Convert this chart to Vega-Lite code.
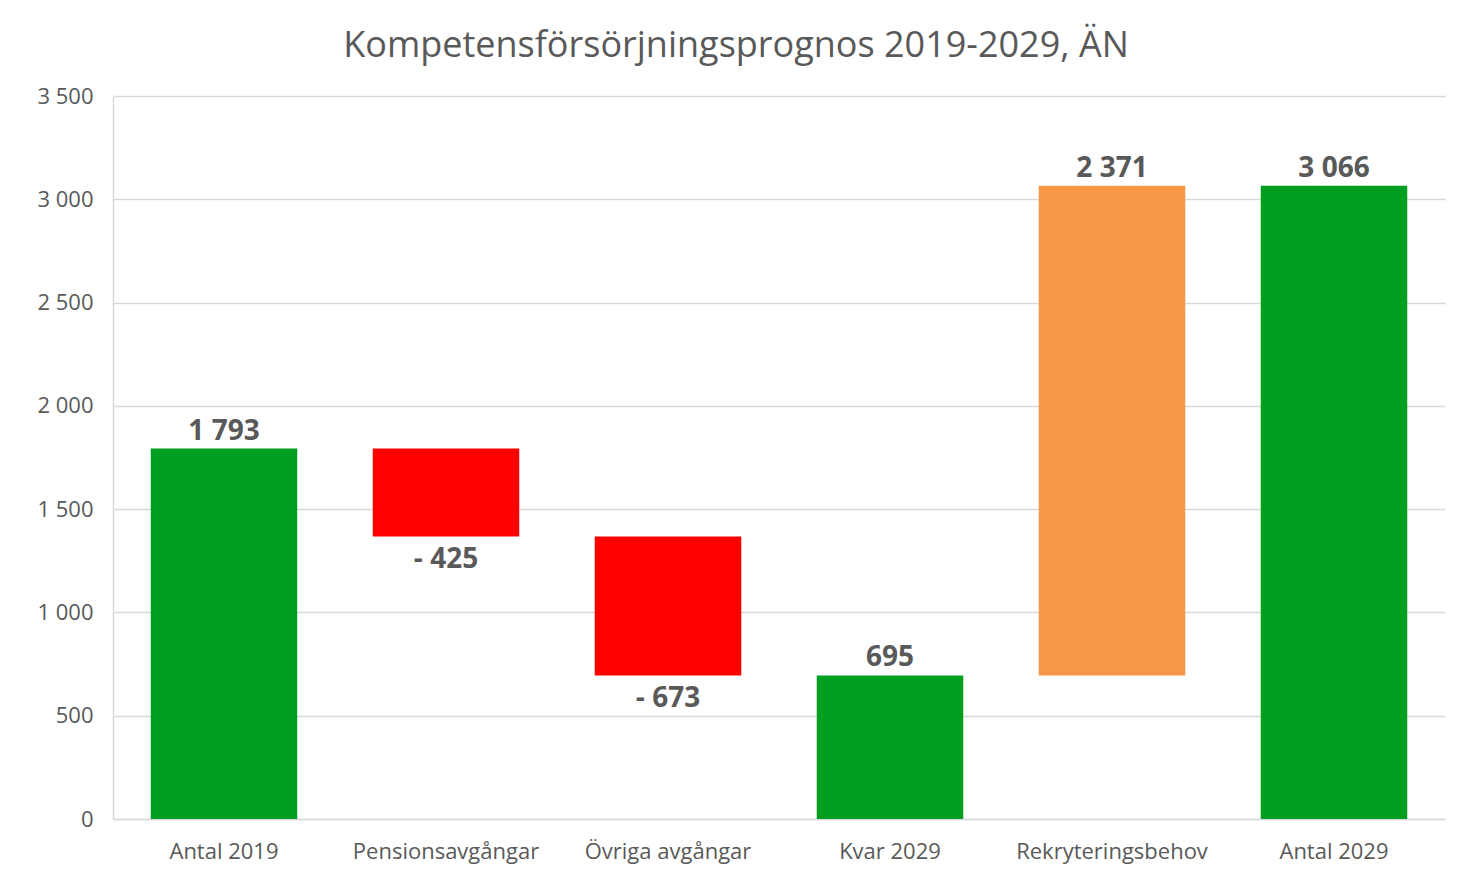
{
  "$schema": "https://vega.github.io/schema/vega-lite/v6.json",
  "autosize": "none",
  "width": 1332,
  "height": 723,
  "padding": {"left": 113, "top": 96, "right": 13, "bottom": 56},
  "background": "white",
  "config": {
    "font": "Open Sans",
    "view": {"stroke": null}
  },
  "title": {
    "text": "Kompetensförsörjningsprognos 2019-2029, ÄN",
    "font": "Open Sans",
    "fontSize": 36,
    "fontWeight": "normal",
    "color": "#595959",
    "anchor": "middle",
    "frame": "bounds",
    "baseline": "alphabetic",
    "offset": 36,
    "dy": 44,
    "dx": -5
  },
  "data": {
    "values": [
      {"kategori": "Antal 2019", "start": 0, "end": 1793, "value": 1793, "typ": "Total"},
      {"kategori": "Pensionsavgångar", "start": 1793, "end": 1368, "value": -425, "typ": "Minskning"},
      {"kategori": "Övriga avgångar", "start": 1368, "end": 695, "value": -673, "typ": "Minskning"},
      {"kategori": "Kvar 2029", "start": 0, "end": 695, "value": 695, "typ": "Total"},
      {"kategori": "Rekryteringsbehov", "start": 695, "end": 3066, "value": 2371, "typ": "Ökning"},
      {"kategori": "Antal 2029", "start": 0, "end": 3066, "value": 3066, "typ": "Total"}
    ]
  },
  "transform": [
    {"calculate": "(datum.value < 0 ? '- ' : '') + replace(format(abs(datum.value), ','), ',', ' ')", "as": "etikett"}
  ],
  "encoding": {
    "x": {
      "field": "kategori",
      "type": "nominal",
      "sort": null,
      "scale": {"paddingInner": 0.34, "paddingOuter": 0.17},
      "axis": {
        "title": null,
        "labelAngle": 0,
        "labelFont": "Open Sans",
        "labelFontSize": 22,
        "labelColor": "#595959",
        "labelPadding": 22,
        "labelLimit": 400,
        "ticks": false,
        "domainColor": "#d9d9d9",
        "domainWidth": 1.5
      }
    }
  },
  "layer": [
    {
      "mark": {"type": "bar"},
      "encoding": {
        "y": {
          "field": "start",
          "type": "quantitative",
          "scale": {"domain": [0, 3500], "nice": false},
          "axis": {
            "title": null,
            "values": [0, 500, 1000, 1500, 2000, 2500, 3000, 3500],
            "labelExpr": "replace(format(datum.value, ','), ',', ' ')",
            "labelFont": "Open Sans",
            "labelFontSize": 22,
            "labelColor": "#595959",
            "labelPadding": 20,
            "ticks": false,
            "domainColor": "#d9d9d9",
            "domainWidth": 1.5,
            "gridColor": "#d9d9d9",
            "gridWidth": 1.5
          }
        },
        "y2": {"field": "end"},
        "color": {
          "field": "typ",
          "type": "nominal",
          "scale": {"domain": ["Total", "Minskning", "Ökning"], "range": ["#009e20", "#ff0000", "#f79646"]},
          "legend": null
        }
      }
    },
    {
      "transform": [{"filter": "datum.value >= 0"}],
      "mark": {"type": "text", "baseline": "alphabetic", "dy": -9, "fontSize": 28, "fontWeight": "bold", "color": "#595959", "font": "Open Sans"},
      "encoding": {
        "y": {"field": "end", "type": "quantitative"},
        "text": {"field": "etikett"}
      }
    },
    {
      "transform": [{"filter": "datum.value < 0"}],
      "mark": {"type": "text", "baseline": "alphabetic", "dy": 32, "fontSize": 28, "fontWeight": "bold", "color": "#595959", "font": "Open Sans"},
      "encoding": {
        "y": {"field": "end", "type": "quantitative"},
        "text": {"field": "etikett"}
      }
    }
  ]
}
